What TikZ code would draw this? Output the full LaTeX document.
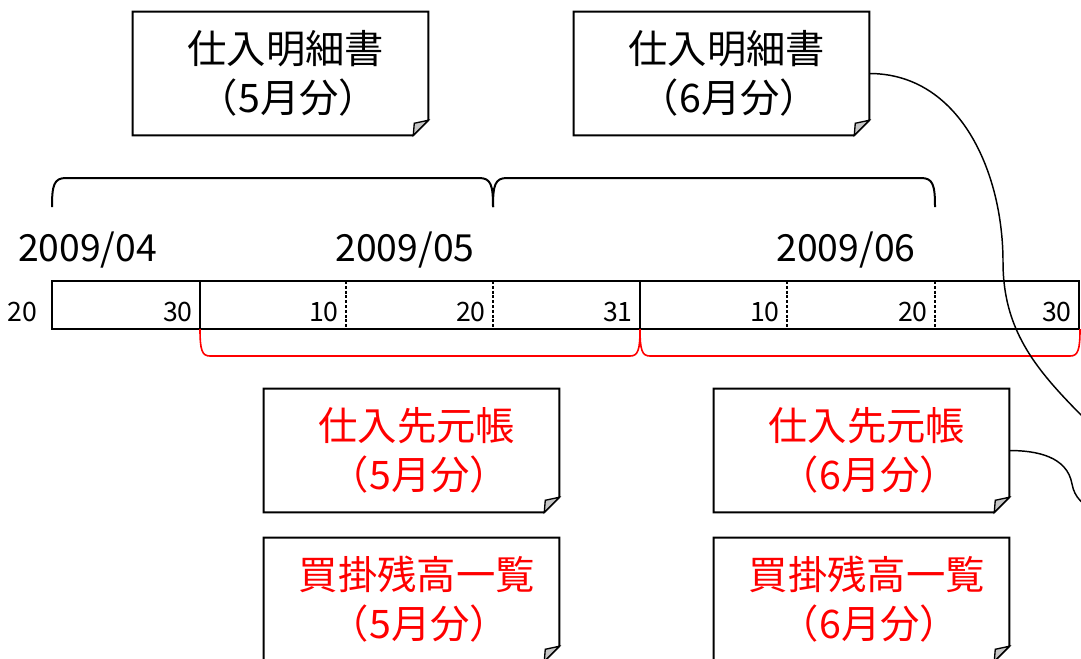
\documentclass[tikz,border=0pt]{standalone}
\usepackage{fontspec}
\setmainfont{Noto Sans CJK JP}
\usetikzlibrary{calc}

\tikzset{
  memo/.style={minimum width=221.25pt,minimum height=92.25pt,inner sep=0pt,align=center,
    font=\fontsize{29.5}{36.75}\selectfont},
  month/.style={font=\fontsize{28}{34}\selectfont,inner sep=0pt},
  day/.style={font=\fontsize{20}{22}\selectfont,inner sep=0pt},
  wire/.style={line width=1.1pt},
}
\newcommand\memotext[2]{\hspace*{8pt}#1\\\hspace*{12pt}#2}
\newcommand\memoframe[1]{%
  \draw[line width=1.5pt] (#1.south west) -- (#1.north west) -- (#1.north east)
    -- ($(#1.south east)+(0,-15)$) -- ($(#1.south east)+(-15,0)$) -- cycle;
  \draw[line width=1pt,fill=gray!45] ($(#1.south east)+(0,-15)$)
    .. controls ($(#1.south east)+(-7,-14)$) .. ($(#1.south east)+(-14,-12)$)
    -- ($(#1.south east)+(-15,0)$) -- cycle;
}

\begin{document}
\begin{tikzpicture}[x=0.75pt,y=-0.75pt]
\path[use as bounding box,clip] (0,0) rectangle (1081,658);

% statements
\node[memo] (m5) at (280.5,73.5) {\memotext{仕入明細書}{（5月分）}};
\node[memo] (m6) at (721.5,73.5) {\memotext{仕入明細書}{（6月分）}};
\memoframe{m5}
\memoframe{m6}

% months
\draw[line width=1.5pt] (52,207) .. controls (52,185) and (54,178) .. (66,178) -- (479,178) .. controls (491,178) and (493,185) .. (493,207);
\draw[line width=1.5pt] (493,207) .. controls (493,185) and (495,178) .. (507,178) -- (921,178) .. controls (933,178) and (935,185) .. (935,207);
\node[month] (d4) at (87.5,250) {2009/04};
\node[month] (d5) at (405,250) {2009/05};
\node[month] (d6) at (846,250) {2009/06};

% time line
\draw[line width=2pt] (52,281) rectangle (1079,329);
\draw[line width=2pt] (200,281) -- (200,329);
\draw[line width=2pt] (640,281) -- (640,329);
\foreach \x in {346,493,787,935}
  \draw[line width=2pt,dash pattern=on 2.2pt off 1.4pt] (\x,281) -- (\x,329);
\node[day] (t0) at (22,312) {20};
\foreach \x/\d in {200/30,346/10,493/20,640/31,787/10,935/20,1079/30}
  \node[day,anchor=east] at (\x-7,312) {\d};

% closing periods
\draw[red,line width=1.2pt] (200,329) .. controls (200,350) and (202,356) .. (210,356) -- (630,356) .. controls (638,356) and (640,350) .. (640,329);
\draw[red,line width=1.2pt] (640,329) .. controls (640,350) and (642,356) .. (650,356) -- (1070,356) .. controls (1078,356) and (1080,350) .. (1080,329);

% ledgers
\node[memo,red] (l5) at (411.5,450.5) {\memotext{仕入先元帳}{（5月分）}};
\node[memo,red] (l6) at (861.5,450.5) {\memotext{仕入先元帳}{（6月分）}};
\node[memo,red] (b5) at (411.5,599.5) {\memotext{買掛残高一覧}{（5月分）}};
\node[memo,red] (b6) at (861.5,599.5) {\memotext{買掛残高一覧}{（6月分）}};
\memoframe{l5}
\memoframe{l6}
\memoframe{b5}
\memoframe{b6}

% links
\coordinate (e1) at (1100,434);
\coordinate (e2) at (1096,512);
\draw[wire] (m6.east) to[out=0,in=90] (1003,262) to[out=-90,in=135] (e1);
\draw[wire] (l6.east) to[out=0,in=100] (1072,484) to[out=-80,in=150] (e2);
\end{tikzpicture}
\end{document}
